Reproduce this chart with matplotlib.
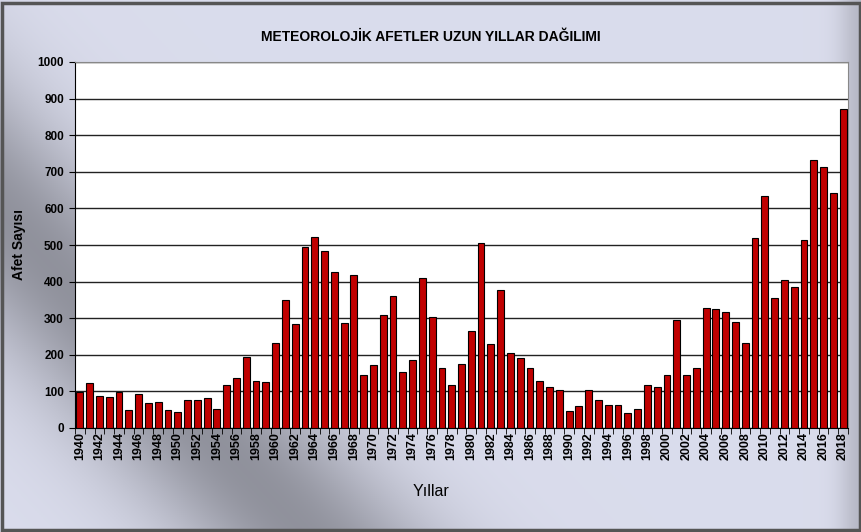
import numpy as np
import matplotlib
matplotlib.use('Agg')
import matplotlib.pyplot as plt
from matplotlib.patches import Rectangle

plt.rcParams['font.family'] = ['Liberation Sans', 'DejaVu Sans']

# Yearly counts of meteorological disasters
years = list(range(1940, 2019))
counts = [98, 122, 87, 85, 98, 50, 93, 69, 72, 50,
          43, 76, 76, 83, 53, 118, 137, 195, 129, 126,
          232, 350, 285, 494, 521, 484, 426, 287, 418, 145,
          171, 308, 361, 153, 185, 411, 303, 163, 118, 174,
          264, 505, 229, 376, 205, 190, 165, 129, 113, 105,
          47, 59, 105, 76, 64, 64, 40, 53, 118, 113,
          145, 295, 145, 165, 328, 324, 317, 289, 232, 518,
          634, 355, 405, 384, 513, 731, 713, 643, 871]
y_ticks = list(range(0, 1001, 100))

W, H = 862, 532
fig = plt.figure(figsize=(W / 100, H / 100), dpi=100)

# steel-like gradient backdrop (dark band from upper left to bottom centre)
bg = fig.add_axes([0, 0, 1, 1], zorder=-10)
xx, yy = np.meshgrid(np.linspace(0, 1, 400), np.linspace(0, 1, 250))
d = 0.6 * xx - 0.35 * yy
shade = 0.89 - 0.3 * np.exp(-((d + 0.14) / 0.09) ** 2)
shade -= 0.14 * np.exp(-((xx - 1.0) / 0.025) ** 2)
rgb = np.dstack([shade * 0.96, shade * 0.97, shade * 1.04]).clip(0, 1)
bg.imshow(rgb, extent=[0, 1, 0, 1], aspect='auto', origin='upper')
bg.add_patch(Rectangle((0.002, 0.004), 0.996, 0.99, fill=False,
                       edgecolor='#555555', linewidth=2.5, transform=bg.transAxes))
bg.set_axis_off()

left, right, top, bottom = 75, 848, 62, 428
ax = fig.add_axes([left / W, 1 - bottom / H, (right - left) / W, (bottom - top) / H])
ax.set_facecolor('white')

x = np.arange(len(years))
ax.bar(x, counts, width=0.7, color='#C00000', edgecolor='black', linewidth=0.8, zorder=3)

ax.set_xlim(-0.5, len(years) - 0.5)
ax.set_ylim(0, 1000)
ax.set_yticks(y_ticks)
ax.set_yticklabels([str(v) for v in y_ticks], fontsize=8.5, fontweight='bold')
ax.yaxis.grid(True, color='#222222', linewidth=1.0, zorder=0)
ax.tick_params(axis='y', length=4, direction='out', pad=4)

ax.set_xticks(x[::2])
ax.set_xticklabels([str(y) for y in years[::2]], rotation=90, fontsize=9,
                   fontweight='bold')
ax.set_xticks(np.arange(-0.5, len(years), 1), minor=True)
ax.tick_params(axis='x', which='major', length=0, pad=3)
ax.tick_params(axis='x', which='minor', length=4, direction='out')

for s in ['top', 'right']:
    ax.spines[s].set_color('#888888')
for s in ['left', 'bottom']:
    ax.spines[s].set_color('black')

ax.set_ylabel('Afet Sayısı', fontsize=10, fontweight='bold', labelpad=8)
fig.text(0.5, 1 - 492 / H, 'Yıllar', ha='center', va='center', fontsize=11.5)
fig.text(0.5, 1 - 37 / H, 'METEOROLOJİK AFETLER UZUN YILLAR DAĞILIMI',
         ha='center', va='center', fontsize=10, fontweight='bold')

fig.savefig('out.png', dpi=100)
